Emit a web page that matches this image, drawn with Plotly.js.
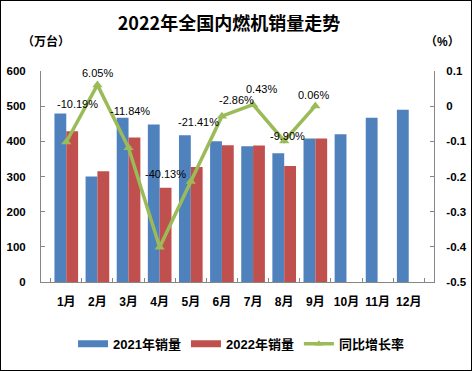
<!DOCTYPE html>
<html>
<head>
<meta charset="utf-8">
<script src="https://cdn.plot.ly/plotly-3.0.1.min.js"></script>
<style>
html,body{margin:0;padding:0;background:#fff;}
#wrap{position:relative;width:472px;height:371px;}
#chart{position:absolute;left:0;top:0;width:472px;height:371px;}
#frame{position:absolute;left:0;top:0;width:472px;height:371px;box-sizing:border-box;border:1px solid #000;pointer-events:none;}
</style>
</head>
<body>
<div id="wrap"><div id="chart"></div><div id="frame"></div></div>
<script>
// ---- data ----
const months = ['1月','2月','3月','4月','5月','6月','7月','8月','9月','10月','11月','12月'];
const sales2021 = [479, 300, 467, 448, 417, 400, 386, 366, 408, 420, 467, 490];
const sales2022 = [429, 315, 411, 268, 327, 389, 388, 330, 408, null, null, null];
const growth = [-0.1019, 0.0605, -0.1184, -0.4013, -0.2141, -0.0286, 0.0043, -0.0990, 0.0006, null, null, null];
const growthLabels = ['-10.19%','6.05%','-11.84%','-40.13%','-21.41%','-2.86%','0.43%','-9.90%','0.06%'];
const leftTicks = [0, 100, 200, 300, 400, 500, 600];
const rightTickVals = [-0.5, -0.4, -0.3, -0.2, -0.1, 0, 0.1];
const rightTickText = ['-0.5','-0.4','-0.3','-0.2','-0.1','0','0.1'];
const names = ['2021年销量','2022年销量','同比增长率'];

// ---- styles ----
const BLUE = '#4F81BD', RED = '#C0504D', GREEN = '#9BBB59';
const FONT = 'Liberation Sans, Arial, Noto Sans CJK SC, sans-serif';
const BOLD = '"Liberation Sans", Arial, "Noto Sans CJK SC", sans-serif';
const labelShift = [[11,38],[0,12],[1,37],[6,73],[8,59],[15,16],[8,16],[3,5],[-2,11]];

const traces = [
  {type:'bar', x:months, y:sales2021, name:names[0], marker:{color:BLUE}, showlegend:false, hoverinfo:'y'},
  {type:'bar', x:months, y:sales2022, name:names[1], marker:{color:RED}, showlegend:false, hoverinfo:'y'},
  {type:'scatter', mode:'lines+markers', x:months, y:growth, yaxis:'y2', name:names[2],
   line:{color:GREEN, width:3.5}, marker:{symbol:'triangle-up', size:9, color:GREEN}, showlegend:false},
  // legend proxies
  {type:'scatter', mode:'lines', x:[months[0]], y:[null], name:names[0], line:{color:BLUE, width:7}, hoverinfo:'skip'},
  {type:'scatter', mode:'lines', x:[months[0]], y:[null], name:names[1], line:{color:RED, width:7}, hoverinfo:'skip'},
  {type:'scatter', mode:'lines+markers', x:[months[0]], y:[null], yaxis:'y2', name:names[2],
   line:{color:GREEN, width:3.5}, marker:{symbol:'triangle-up', size:7, color:GREEN}, hoverinfo:'skip'}
];

const annotations = growthLabels.map((t,i)=>({
  x: months[i], y: growth[i], xref:'x', yref:'y2', text:t, showarrow:false,
  xshift: labelShift[i][0], yshift: labelShift[i][1],
  font:{family:FONT, size:11, color:'#000'}
}));
annotations.push({xref:'paper', yref:'paper', x:0.0127, y:1.1405, text:'<b>（万台）</b>', showarrow:false,
  xanchor:'center', yanchor:'middle', font:{family:BOLD, size:12, color:'#000'}});
annotations.push({xref:'paper', yref:'paper', x:1.0204, y:1.136, text:'<b>（%）</b>', showarrow:false,
  xanchor:'center', yanchor:'middle', font:{family:BOLD, size:12, color:'#000'}});

const axisCommon = {showline:true, linecolor:'#868686', linewidth:1, ticks:'inside', ticklen:4,
  tickcolor:'#868686', showgrid:false, zeroline:false,
  tickfont:{family:BOLD, size:12, color:'#000', weight:'bold'}};

const layout = {
  width:472, height:371,
  margin:{l:41, r:38, t:71, b:86.5, pad:0},
  paper_bgcolor:'#fff', plot_bgcolor:'#fff',
  title:{text:'<b>2022年全国内燃机销量走势</b>', x:0.485, xref:'container', xanchor:'center',
    y:0.935, yref:'container', yanchor:'middle',
    font:{family:'"Noto Sans CJK SC", sans-serif', size:18, color:'#000'}},
  barmode:'group', bargap:0.24, bargroupgap:0,
  xaxis:Object.assign({}, axisCommon, {type:'category', categoryorder:'array', categoryarray:months,
    tickson:'boundaries', tickangle:0, ticklabelstandoff:9,
    tickfont:{family:BOLD, size:12, color:'#000', weight:'bold'}}),
  yaxis:Object.assign({}, axisCommon, {range:[0,600], tickvals:leftTicks, ticklabelstandoff:12,
    tickfont:{family:BOLD, size:11.5, color:'#000', weight:'bold'}}),
  yaxis2:Object.assign({}, axisCommon, {overlaying:'y', side:'right', range:[-0.5,0.1],
    tickvals:rightTickVals, ticktext:rightTickText, ticklabelstandoff:9,
    tickfont:{family:BOLD, size:11.5, color:'#000', weight:'bold'}}),
  legend:{orientation:'h', x:0.509, xanchor:'center', y:-0.293, yanchor:'middle',
    font:{family:BOLD, size:13, color:'#000', weight:'bold'}, itemwidth:30, tracegroupgap:0},
  annotations:annotations,
  showlegend:true
};

Plotly.newPlot('chart', traces, layout, {displayModeBar:false, staticPlot:true});
</script>
</body>
</html>
